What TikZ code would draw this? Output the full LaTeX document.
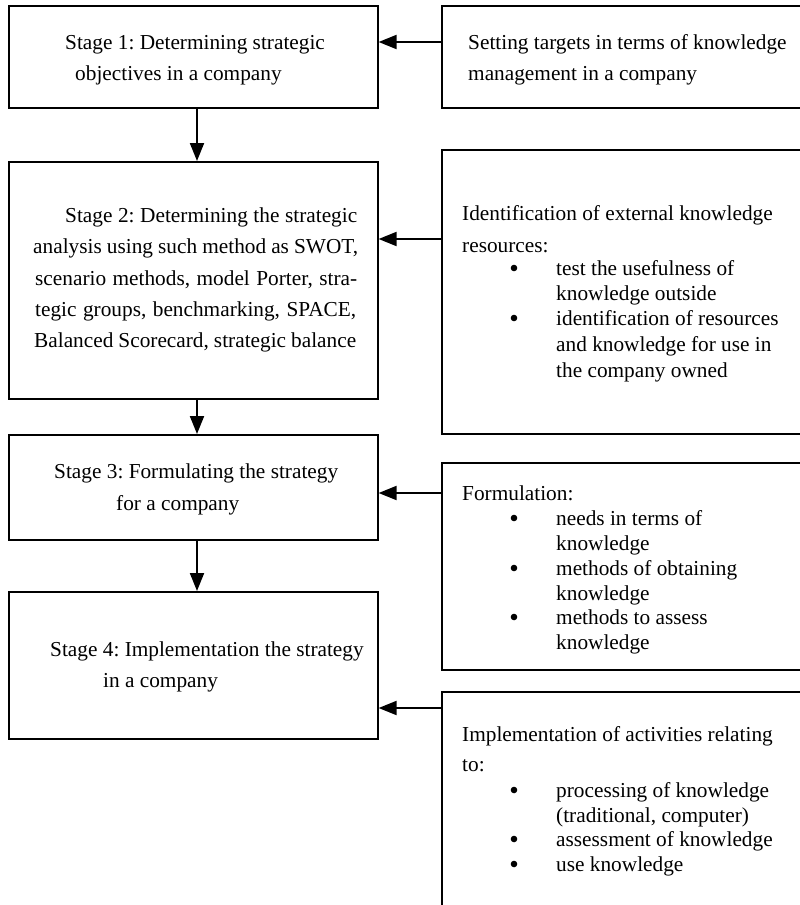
\documentclass[tikz,border=0pt]{standalone}
\usepackage{fontspec}
\setmainfont{Liberation Serif}
\usetikzlibrary{arrows.meta}
\frenchspacing
\begin{document}
\begin{tikzpicture}[x=1pt,y=-1pt,
  box/.style={draw, line width=1.6pt, rectangle, inner sep=0pt, anchor=north west},
  txt/.style={anchor=base west, inner sep=0pt, font=\fontsize{21.3}{25}\selectfont},
  dot/.style={fill=black},
  conn/.style={line width=2pt, -{Triangle[length=18pt,width=14pt]}},
  ]
\useasboundingbox (0,0) rectangle (800,905);
\clip (0,0) rectangle (800,905);

% boxes
\node[box, minimum width=369pt, minimum height=102pt] (s1) at (8,5) {};
\node[box, minimum width=380pt, minimum height=102pt] (r1) at (441,5) {};
\node[box, minimum width=369pt, minimum height=237pt] (s2) at (8,161) {};
\node[box, minimum width=380pt, minimum height=284pt] (r2) at (441,149) {};
\node[box, minimum width=369pt, minimum height=105pt] (s3) at (8,434) {};
\node[box, minimum width=380pt, minimum height=207pt] (r3) at (441,462) {};
\node[box, minimum width=369pt, minimum height=147pt] (s4) at (8,591) {};
\node[box, minimum width=380pt, minimum height=240pt] (r4) at (441,691) {};

% connector helper coordinates
\coordinate (vx) at (197,0);
\coordinate (h1) at (0,42);
\coordinate (h2) at (0,239);
\coordinate (h3) at (0,493);
\coordinate (h4) at (0,708);

\draw[conn] (s1.south -| vx) -- (s2.north -| vx);
\draw[conn] (s2.south -| vx) -- (s3.north -| vx);
\draw[conn] (s3.south -| vx) -- (s4.north -| vx);
\draw[conn] (r1.west |- h1) -- (s1.east |- h1);
\draw[conn] (r2.west |- h2) -- (s2.east |- h2);
\draw[conn] (r3.west |- h3) -- (s3.east |- h3);
\draw[conn] (r4.west |- h4) -- (s4.east |- h4);

% stage 1
\node[txt] (s1a) at (65,49) {Stage 1: Determining strategic};
\node[txt] (s1b) at (75,80) {objectives in a company};
% right 1
\node[txt] (r1a) at (468,49) {Setting targets in terms of knowledge};
\node[txt] (r1b) at (468,80) {management in a company};

% stage 2
\node[txt] (s2a) at (65,222) {\makebox[292pt][s]{Stage 2: Determining the strategic}};
\node[txt] (s2b) at (33,253) {\makebox[325pt][s]{analysis using such method as SWOT,}};
\node[txt] (s2c) at (35,285) {\makebox[322pt][s]{scenario methods, model Porter, stra-}};
\node[txt] (s2d) at (35,316) {\makebox[321pt][s]{tegic groups, benchmarking, SPACE,}};
\node[txt] (s2e) at (34,347) {\makebox[322pt][s]{Balanced Scorecard, strategic balance}};

% right 2
\node[txt] (r2a) at (462,220) {Identification of external knowledge};
\node[txt] (r2b) at (462,252) {resources:};
\coordinate (b21) at (514,268);
\node[txt] (r2d) at (556,275) {test the usefulness of};
\node[txt] (r2e) at (556,300) {knowledge outside};
\coordinate (b22) at (514,318);
\node[txt] (r2g) at (556,325) {identification of resources};
\node[txt] (r2h) at (556,351) {and knowledge for use in};
\node[txt] (r2i) at (556,377) {the company owned};

% stage 3
\node[txt] (s3a) at (54,478) {Stage 3: Formulating the strategy};
\node[txt] (s3b) at (116,510) {for a company};

% right 3
\node[txt] (r3a) at (462,500) {Formulation:};
\coordinate (b31) at (514,518);
\node[txt] (r3c) at (556,525) {needs in terms of};
\node[txt] (r3d) at (556,550) {knowledge};
\coordinate (b32) at (514,568);
\node[txt] (r3f) at (556,575) {methods of obtaining};
\node[txt] (r3g) at (556,600) {knowledge};
\coordinate (b33) at (514,617);
\node[txt] (r3i) at (556,624) {methods to assess};
\node[txt] (r3j) at (556,649) {knowledge};

% stage 4
\node[txt] (s4a) at (50,656) {Stage 4: Implementation the strategy};
\node[txt] (s4b) at (103,687) {in a company};

% right 4
\node[txt] (r4a) at (462,741) {Implementation of activities relating};
\node[txt] (r4b) at (462,771) {to:};
\coordinate (b41) at (514,790);
\node[txt] (r4d) at (556,797) {processing of knowledge};
\node[txt] (r4e) at (556,822) {(traditional, computer)};
\coordinate (b42) at (514,839);
\node[txt] (r4g) at (556,846) {assessment of knowledge};
\coordinate (b43) at (514,864);
\node[txt] (r4i) at (556,871) {use knowledge};

% bullets
\foreach \b in {b21,b22,b31,b32,b33,b41,b42,b43}
  \fill[dot] (\b) circle (3.3pt);
\end{tikzpicture}
\end{document}
